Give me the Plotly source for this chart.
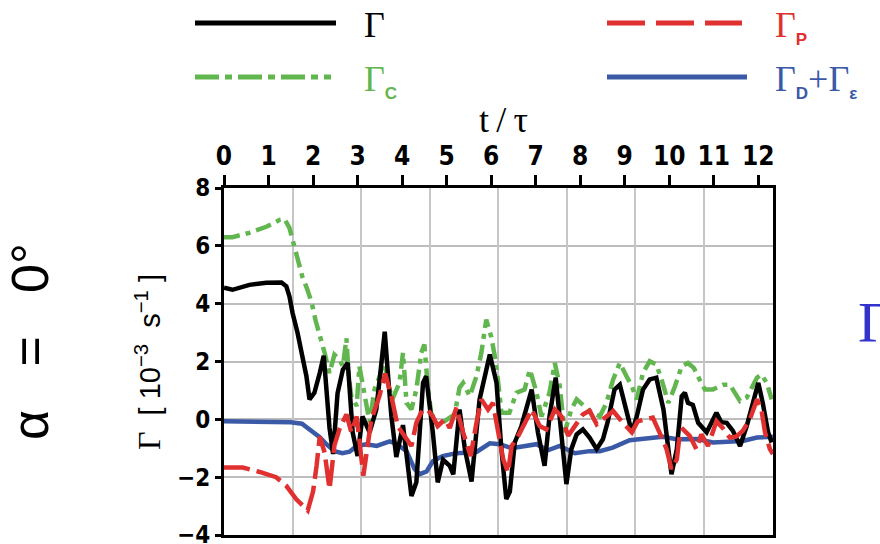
import plotly.graph_objects as go

# ---------------- data ----------------
t_total = [0, 0.19, 0.57, 0.95, 1.29, 1.40, 1.47, 1.54, 1.65, 1.76, 1.85, 1.92, 2.03, 2.15, 2.24,
           2.37, 2.45, 2.55, 2.67, 2.78, 2.89, 3.00, 3.11, 3.27, 3.42, 3.52, 3.61, 3.70, 3.76, 3.87,
           4.02, 4.21, 4.32, 4.47, 4.54, 4.69, 4.80, 4.92, 5.07, 5.15, 5.29, 5.41, 5.56, 5.74, 5.97,
           6.12, 6.23, 6.34, 6.42, 6.53, 6.68, 6.91, 7.05, 7.20, 7.31, 7.45, 7.58, 7.69, 7.80, 7.92,
           8.06, 8.21, 8.37, 8.51, 8.62, 8.77, 8.89, 9.04, 9.16, 9.27, 9.41, 9.56, 9.71, 9.87, 9.98,
           10.05, 10.17, 10.28, 10.35, 10.42, 10.53, 10.65, 10.84, 10.95, 11.06, 11.17, 11.29, 11.43,
           11.59, 11.74, 11.89, 12.00, 12.10, 12.22, 12.30]
gamma_total = [4.55, 4.48, 4.65, 4.72, 4.73, 4.6, 4.25, 3.68, 3.0, 2.2, 1.5, 0.69, 0.92, 1.6, 2.2,
               -0.3, -1.2, 0.9, 1.72, 1.95, -0.45, -1.27, 0.1, -0.45, 0.34, 1.72, 3.03, 1.2, 0.1, -1.3,
               -0.2, -2.65, -2.18, 1.26, 1.49, -0.45, -2.18, -1.4, -1.61, -1.9, 0.34, -1.03, -2.15, 0.69, 2.24,
               1.27, -1.03, -2.76, -2.5, -0.8, -0.23, 1.03, -0.45, -1.61, 0.1, 1.44, -0.45, -2.24, -1.03, -0.52,
               -0.35, -0.63, -1.03, -0.69, -0.07, 1.03, 1.2, 0.34, -0.45, 0.1, 1.03, 1.38, 1.44, 0.34, -1.03,
               -1.9, -1.03, 0.8, 0.92, 0.57, 0.5, -0.12, -0.45, -0.07, 0.23, -0.1, -0.12, -0.4,
               -0.92, -0.23, 0.69, 1.26, 0.57, -0.45, -0.8]

t_p = [0, 0.42, 0.8, 1.17, 1.40, 1.62, 1.88, 2.0, 2.08, 2.15, 2.26, 2.37, 2.48, 2.60, 2.75, 2.86,
       2.98, 3.13, 3.31, 3.49, 3.62, 3.76, 3.90, 4.10, 4.21, 4.32, 4.45, 4.57, 4.69, 4.80, 4.96,
       5.07, 5.22, 5.37, 5.54, 5.67, 5.78, 5.93, 6.04, 6.16, 6.27, 6.38, 6.46, 6.57, 6.75, 6.91,
       7.09, 7.24, 7.43, 7.58, 7.73, 7.88, 8.06, 8.21, 8.37, 8.59, 8.74, 8.96, 9.16, 9.29, 9.49,
       9.63, 9.78, 9.94, 10.05, 10.17, 10.24, 10.31, 10.46, 10.61, 10.72, 10.87, 11.06, 11.2, 11.36,
       11.5, 11.65, 11.81, 11.97, 12.07, 12.15, 12.26, 12.33]
gamma_p = [-1.67, -1.67, -1.82, -2.0, -2.3, -2.76, -3.15, -2.5, -1.6, -0.6, -1.15, -2.41, -0.9, -0.3, 0.17, -0.45,
           0.1, -1.95, 0.0, 0.8, 1.58, 0.8, -0.23, -0.69, -0.92, -0.12, 0.3, 0.34, 0.1, -0.23, 0.0,
           -0.3, 0.4, -0.45, -1.27, -0.12, 0.69, 0.34, 0.57, -0.45, -1.38, -1.84, -0.92, -0.69, -0.12, 0.34,
           -0.23, -0.35, 0.34, 0.1, -0.57, -0.23, 0.17, 0.3, -0.17, 0.1, 0.29, -0.12, -0.45, -0.07, 0.0,
           0.06, -0.45, -1.03, -1.72, -1.38, -0.45, -0.35, -0.57, -1.03, -0.52, -0.92, -0.07, -0.3, -0.63,
           -0.6, -0.4, 0.0, 0.69, 0.34, -0.45, -1.03, -1.2]

t_c = [0, 0.19, 0.57, 0.95, 1.25, 1.36, 1.47, 1.54, 1.65, 1.76, 1.87, 1.97, 2.06, 2.15, 2.26, 2.37,
       2.48, 2.58, 2.67, 2.75, 2.80, 2.86, 2.98, 3.04, 3.15, 3.27, 3.38, 3.50, 3.60, 3.68, 3.78,
       3.94, 4.02, 4.10, 4.21, 4.32, 4.43, 4.50, 4.57, 4.65, 4.80, 5.00, 5.18, 5.29, 5.37, 5.52,
       5.67, 5.78, 5.89, 6.00, 6.08, 6.16, 6.23, 6.41, 6.57, 6.75, 6.87, 7.02, 7.13, 7.31, 7.43,
       7.54, 7.65, 7.80, 7.92, 8.06, 8.21, 8.44, 8.59, 8.74, 8.89, 9.04, 9.16, 9.27, 9.41, 9.56,
       9.71, 9.85, 9.98, 10.13, 10.28, 10.42, 10.55, 10.68, 10.80, 10.98, 11.21, 11.36, 11.48, 11.59,
       11.74, 11.85, 11.97, 12.07, 12.19, 12.30]
gamma_c = [6.3, 6.3, 6.45, 6.66, 6.9, 6.93, 6.62, 6.2, 5.62, 4.93, 4.5, 4.03, 3.4, 2.95, 2.3, 1.6,
           2.24, 2.1, 1.84, 2.8, 1.5, 0.8, 0.46, 1.84, 0.92, -0.1, 1.03, 1.5, 2.13, 1.26, 0.69,
           1.26, 2.3, 0.57, 0.34, 1.03, 2.3, 2.59, 1.26, 0.23, -0.23, 0.0, 0.17, 1.1, 1.26, 0.8,
           1.49, 2.3, 3.45, 2.86, 2.2, 1.26, 0.23, 0.23, 0.92, 1.03, 1.72, 0.92, 0.1, 0.92, 1.95,
           1.15, -0.45, 0.34, 0.69, 0.5, 0.29, 0.1, 0.57, 1.38, 1.95, 1.49, 1.15, 0.69, 1.61, 2.01,
           1.9, 1.26, 0.57, 1.15, 1.84, 1.95, 1.78, 1.38, 1.03, 1.03, 1.2, 1.2, 0.92, 0.63,
           0.75, 1.1, 1.44, 1.55, 1.26, 0.69]

t_de = [0, 0.5, 1.0, 1.5, 1.75, 1.99, 2.15, 2.30, 2.48, 2.66, 2.82, 2.98, 3.20, 3.43, 3.72, 3.88,
        4.10, 4.28, 4.39, 4.55, 4.69, 4.91, 5.22, 5.52, 5.67, 5.97, 6.19, 6.46, 6.71, 7.02, 7.27,
        7.54, 7.88, 8.21, 8.44, 8.73, 9.11, 9.56, 9.85, 10.17, 10.62, 10.98, 11.36, 11.65, 11.97,
        12.26, 12.33]
gamma_de = [-0.07, -0.08, -0.08, -0.1, -0.15, -0.42, -0.62, -0.86, -1.1, -1.17, -1.12, -0.92, -0.86, -0.92, -0.76, -0.85,
            -1.1, -1.72, -1.9, -1.8, -1.45, -1.27, -1.17, -1.15, -1.13, -0.83, -0.86, -1.0, -0.94, -0.86, -1.07,
            -0.92, -1.17, -1.1, -1.1, -0.98, -0.72, -0.67, -0.6, -0.69, -0.68, -0.8, -0.78, -0.75, -0.63,
            -0.6, -0.6]

x_ticks = list(range(0, 13))
y_ticks = [-4, -2, 0, 2, 4, 6, 8]
y_tick_text = ["\u22124", "\u22122", "0", "2", "4", "6", "8"]

# ---------------- styles ----------------
BLACK = "#000000"
RED = "#e0302f"
GREEN = "#62b64f"
BLUE = "#3a5aa8"
RED_DASH = "26px,7px"
GREEN_DASH = "16px,6px,5px,6px"
LW = 4.5

fig = go.Figure()
fig.add_trace(go.Scatter(x=t_c, y=gamma_c, mode="lines",
                         line=dict(color=GREEN, width=LW, dash=GREEN_DASH)))
fig.add_trace(go.Scatter(x=t_de, y=gamma_de, mode="lines",
                         line=dict(color=BLUE, width=LW)))
fig.add_trace(go.Scatter(x=t_total, y=gamma_total, mode="lines",
                         line=dict(color=BLACK, width=LW)))
fig.add_trace(go.Scatter(x=t_p, y=gamma_p, mode="lines",
                         line=dict(color=RED, width=LW, dash=RED_DASH)))
# helper trace so the grid-only axis exists
fig.add_trace(go.Scatter(x=[0], y=[None], xaxis="x2", mode="lines", hoverinfo="skip"))

tick_font = dict(family="DejaVu Sans Condensed", size=24, color="black", weight="bold")

fig.update_layout(
    width=880, height=544,
    margin=dict(l=224, r=107, t=188, b=9, autoexpand=False),
    paper_bgcolor="white", plot_bgcolor="white",
    showlegend=False,
    xaxis=dict(range=[0, 12.33], side="top", tickmode="array", tickvals=x_ticks,
               ticktext=[str(v) for v in x_ticks], automargin=False,
               ticks="outside", ticklen=10, tickwidth=2.5, tickcolor="black",
               showline=True, linewidth=2.5, linecolor="black", mirror=True,
               showgrid=False, zeroline=False,
               tickfont=dict(family="DejaVu Sans Condensed", size=26, color="black", weight="bold")),
    xaxis2=dict(range=[0, 8.01], overlaying="x", anchor="y", dtick=1, automargin=False,
                showgrid=True, gridcolor="#c6c6c6", gridwidth=1.5,
                showticklabels=False, ticks="", showline=False, zeroline=False),
    yaxis=dict(range=[-4, 8], tickmode="array", tickvals=y_ticks, ticktext=y_tick_text,
               ticks="outside", ticklen=6, tickwidth=2.5, tickcolor="black", automargin=False,
               showline=True, linewidth=3, linecolor="black", mirror=True,
               showgrid=True, gridcolor="#bdbdbd", gridwidth=1.5, zeroline=False,
               ticklabeloverflow="allow",
               tickfont=tick_font),
)

# ---------------- manual legend ----------------
def xp(px):
    return (px - 224) / 549.0

def yp(py):
    return (535 - py) / 347.0

SUB = '<sub><span style="font-family:Liberation Sans;font-weight:bold;font-size:17px">{}</span></sub>'

legend_items = [
    (195, 336, 23, BLACK, None, "\u0393", 362, 25),
    (607, 742, 23, RED, "38px,11px", "\u0393" + SUB.format("P"), 773, 27),
    (195, 331, 77, GREEN, "24px,6px,7px,6px", "\u0393" + SUB.format("C"), 362, 81),
    (607, 747, 77, BLUE, None, "\u0393" + SUB.format("D") + "+\u0393" + SUB.format("\u03b5"), 773, 81),
]
for x0, x1, yy, col, dash, label, lx, ly in legend_items:
    fig.add_shape(type="line", xref="paper", yref="paper",
                  x0=xp(x0), x1=xp(x1), y0=yp(yy), y1=yp(yy),
                  line=dict(color=col, width=5, dash=dash))
    fig.add_annotation(xref="paper", yref="paper", x=xp(lx), y=yp(ly),
                       xanchor="left", yanchor="middle", showarrow=False,
                       text=label, font=dict(family="Liberation Serif", size=36, color=col))

# axis title on top
fig.add_annotation(xref="paper", yref="paper", x=xp(503), y=yp(120),
                   xanchor="center", yanchor="middle", showarrow=False,
                   text="t\u2009/\u2009\u03c4",
                   font=dict(family="Liberation Serif", size=36, color="black"))
# y-axis title
fig.add_annotation(xref="paper", yref="paper", x=xp(148), y=yp(362),
                   xanchor="center", yanchor="middle", showarrow=False, textangle=-90,
                   text='<span style="font-family:Liberation Serif;font-size:32px">\u0393</span>'
                        '\u00a0\u00a0[\u00a010<sup>\u22123</sup>\u00a0\u00a0s<sup>\u22121</sup>\u00a0]',
                   font=dict(family="Liberation Sans", size=29, color="black"))
# alpha label
fig.add_annotation(xref="paper", yref="paper", x=xp(30), y=yp(342),
                   xanchor="center", yanchor="middle", showarrow=False, textangle=-90,
                   text="\u03b1\u00a0\u00a0\u00a0=\u00a0\u00a0\u00a00\u00b0",
                   font=dict(family="Liberation Sans", size=52, color="black"))
# right partial label
fig.add_annotation(xref="paper", yref="paper", x=xp(856), y=yp(322),
                   xanchor="left", yanchor="middle", showarrow=False,
                   text="\u0393",
                   font=dict(family="Liberation Serif", size=58, color="#3333cc"))

fig.write_html("out.html")
